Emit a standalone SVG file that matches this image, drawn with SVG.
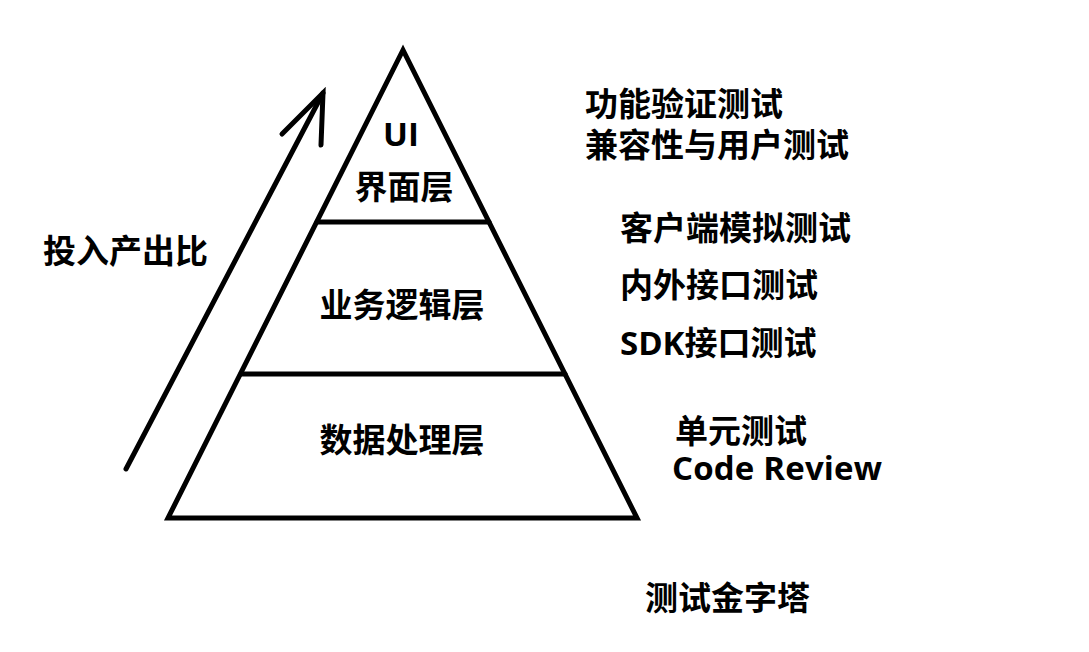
<svg xmlns="http://www.w3.org/2000/svg" width="1089" height="652" viewBox="0 0 1089 652">
<style>
.t{font-family:"Open Sans","Noto Sans CJK SC",sans-serif;font-weight:bold;font-size:33px;fill:#000}
.c{text-anchor:middle}
.ln{stroke:#000;stroke-width:5;fill:none;stroke-linecap:round;stroke-linejoin:miter}
</style>
<rect width="1089" height="652" fill="#fff"/>
<g id="pyramid">
<polygon class="ln" points="403,50 168,518 637,518"/>
<line class="ln" x1="317" y1="222" x2="489" y2="222"/>
<line class="ln" x1="241" y1="374" x2="565" y2="374"/>
</g>
<g id="layer-ui">
<text class="t c" x="401" y="146">UI</text>
<text class="t c" x="404" y="199">界面层</text>
</g>
<g id="layer-business"><text class="t c" x="402" y="317">业务逻辑层</text></g>
<g id="layer-data"><text class="t c" x="402" y="452">数据处理层</text></g>
<g id="connectors">
<line class="ln" x1="126" y1="469" x2="323" y2="93"/>
<polyline class="ln" points="282,134 323,93 321,145"/>
</g>
<g id="label-ratio"><text class="t" x="43" y="263">投入产出比</text></g>
<g id="label-ui-tests">
<text class="t" x="585" y="116">功能验证测试</text>
<text class="t" x="585" y="157">兼容性与用户测试</text>
</g>
<g id="label-business-tests">
<text class="t" x="620" y="240">客户端模拟测试</text>
<text class="t" x="620" y="297">内外接口测试</text>
<text class="t" x="620" y="355">SDK接口测试</text>
</g>
<g id="label-data-tests">
<text class="t" x="675" y="443">单元测试</text>
<text class="t" x="672" y="480" textLength="210">Code Review</text>
</g>
<g id="title"><text class="t" x="645" y="610">测试金字塔</text></g>
</svg>
